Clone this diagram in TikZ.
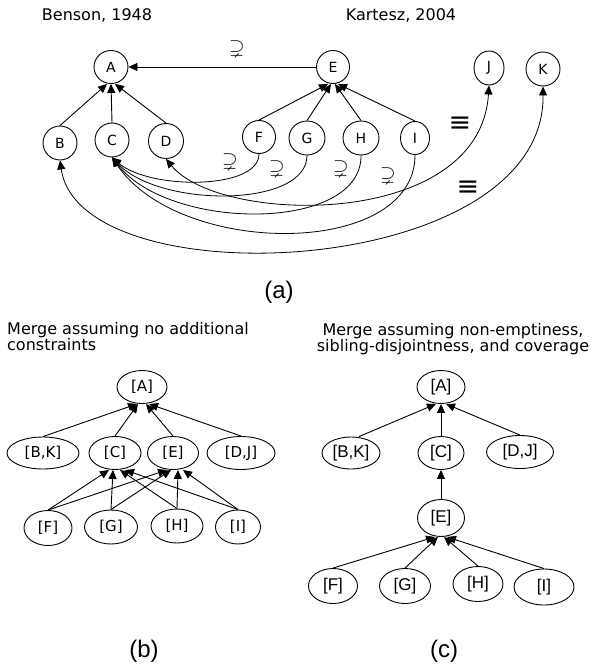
\documentclass[tikz,border=0pt]{standalone}
\usepackage{amsmath,amssymb}
\usepackage{fontspec}
\setmainfont{DejaVu Sans}
\newfontfamily\arialf{Liberation Sans}
\usetikzlibrary{shapes.geometric,arrows.meta}
\tikzset{
  lw/.style={line width=0.9pt},
  anode/.style={draw, ellipse, inner sep=0pt, lw, font=\fontsize{14}{16}\selectfont},
  bnode/.style={draw, ellipse, inner sep=0pt, lw, font=\fontsize{15}{17}\selectfont},
  cnode/.style={draw, ellipse, inner sep=0pt, lw, font=\arialf\fontsize{17}{19}\selectfont},
  arr/.style={-{Triangle[length=9pt,width=8pt]}, lw},
  biarr/.style={{Triangle[length=9pt,width=8pt]}-{Triangle[length=9pt,width=8pt]}, line width=0.8pt},
  curv/.style={-{Triangle[length=9pt,width=8pt]}, line width=0.8pt},
  sym/.style={inner sep=0pt, font=\fontsize{20}{22}\selectfont},
  eqv/.style={inner sep=0pt, font=\fontsize{27}{29}\selectfont},
  head/.style={inner sep=0pt, font=\fontsize{16}{17}\selectfont},
  sublabel/.style={inner sep=0pt, font=\arialf\fontsize{24}{26}\selectfont}
}
\begin{document}
\begin{tikzpicture}[x=1pt,y=-1pt]
\path[use as bounding box] (0,0) rectangle (591,669);

% ---------- (a) ----------
\node[head] (hb) at (97,15) {Benson, 1948};
\node[head] (hk) at (401,15) {Kartesz, 2004};

\node[anode, minimum width=34pt, minimum height=33pt] (A) at (111,67) {A};
\node[anode, minimum width=34pt, minimum height=34pt] (B) at (60,143) {B};
\node[anode, minimum width=34pt, minimum height=34pt] (C) at (112,140) {C};
\node[anode, minimum width=35pt, minimum height=35pt] (D) at (166,141) {D};
\node[anode, minimum width=33pt, minimum height=33pt] (E) at (333,67) {E};
\node[anode, minimum width=33pt, minimum height=33pt] (F) at (259,137) {F};
\node[anode, minimum width=36pt, minimum height=34pt] (G) at (307,138) {G};
\node[anode, minimum width=36pt, minimum height=34pt] (H) at (361,138) {H};
\node[anode, minimum width=29pt, minimum height=33pt] (I) at (415,138) {I};
\node[anode, minimum width=30pt, minimum height=34pt] (J) at (489,68) {J};
\node[anode, minimum width=34pt, minimum height=34pt] (K) at (543,69) {K};

\draw[arr] (B.north) -- ([xshift=-4pt]A.south);
\draw[arr] (C.north) -- (A.south);
\draw[arr] (D.north) -- ([xshift=4pt]A.south);
\draw[arr] (F.north) -- ([xshift=-5pt]E.south);
\draw[arr] (G.north) -- ([xshift=-2pt]E.south);
\draw[arr] (H.north) -- ([xshift=2pt]E.south);
\draw[arr] (I.north) -- ([xshift=5pt]E.south);
\draw[arr] (E) -- (A);

\draw[curv] (F.south) .. controls (259,190) and (150,190) .. (C.south);
\draw[curv] (G.south) .. controls (307,208) and (160,208) .. (C.south);
\draw[curv] (H.south) .. controls (362,232) and (170,232) .. (C.south);
\draw[curv] (I.south) .. controls (415,258) and (180,258) .. (C.south);
\draw[biarr] (D.south) .. controls (220,225) and (480,230) .. (J.south);
\draw[biarr] (B.south) .. controls (80,300) and (545,280) .. (K.south);

\node[sym] (sEA) at (237,49) {$\supsetneq$};
\node[sym] (sF) at (230,161) {$\supsetneq$};
\node[sym] (sG) at (277,168) {$\supsetneq$};
\node[sym] (sH) at (341,168) {$\supsetneq$};
\node[sym] (sI) at (388,175) {$\supsetneq$};
\node[eqv] (eJ) at (460,124) {≡};
\node[eqv] (eK) at (468,188) {≡};

\node[sublabel] (la) at (279,292) {(a)};

% ---------- (b) ----------
\node[head, anchor=base west] (tb1) at (7,334) {Merge assuming no additional};
\node[head, anchor=base west] (tb2) at (7,350) {constraints};

\node[bnode, minimum width=50pt, minimum height=33pt] (bA) at (142,387) {[A]};
\node[bnode, minimum width=72pt, minimum height=32pt] (bBK) at (43,453) {[B,K]};
\node[bnode, minimum width=52pt, minimum height=33pt] (bC) at (115,453) {[C]};
\node[bnode, minimum width=51pt, minimum height=33pt] (bE) at (173,453) {[E]};
\node[bnode, minimum width=68pt, minimum height=33pt] (bDJ) at (241,453) {[D,J]};
\node[bnode, minimum width=48pt, minimum height=35pt] (bF) at (48,528) {[F]};
\node[bnode, minimum width=53pt, minimum height=34pt] (bG) at (111,527) {[G]};
\node[bnode, minimum width=52pt, minimum height=34pt] (bH) at (177,526) {[H]};
\node[bnode, minimum width=45pt, minimum height=34pt] (bI) at (238,527) {[I]};

\draw[arr] (bBK.north) -- ([xshift=-5pt]bA.south);
\draw[arr] (bC.north) -- ([xshift=-4pt]bA.south);
\draw[arr] (bE.north) -- ([xshift=4pt]bA.south);
\draw[arr] (bDJ.north) -- ([xshift=7pt]bA.south);
\foreach \s/\o in {bF/-6pt, bG/-2pt, bH/5pt, bI/10pt}{
  \draw[arr] (\s.north) -- ([xshift=\o]bC.south);
  \draw[arr] (\s.north) -- ([xshift=\o]bE.south);
}
\node[sublabel] (lb) at (144,651) {(b)};

% ---------- (c) ----------
\node[head, anchor=base] (tc1) at (453,335) {Merge assuming non-emptiness,};
\node[head, anchor=base] (tc2) at (453,351) {sibling-disjointness, and coverage};

\node[cnode, minimum width=48pt, minimum height=33pt] (cA) at (441,387) {[A]};
\node[cnode, minimum width=58pt, minimum height=32pt] (cBK) at (351,453) {[B,K]};
\node[cnode, minimum width=46pt, minimum height=33pt] (cC) at (441,453) {[C]};
\node[cnode, minimum width=67pt, minimum height=33pt] (cDJ) at (520,452) {[D,J]};
\node[cnode, minimum width=47pt, minimum height=37pt] (cE) at (441,518) {[E]};
\node[cnode, minimum width=49pt, minimum height=35pt] (cF) at (333,586) {[F]};
\node[cnode, minimum width=51pt, minimum height=35pt] (cG) at (405,586) {[G]};
\node[cnode, minimum width=50pt, minimum height=35pt] (cH) at (478,584) {[H]};
\node[cnode, minimum width=60pt, minimum height=36pt] (cI) at (544,587) {[I]};

\draw[arr] ([xshift=8pt]cBK.north) -- ([xshift=-5pt]cA.south);
\draw[arr] (cC.north) -- (cA.south);
\draw[arr] (cDJ.north) -- ([xshift=5pt]cA.south);
\draw[arr] (cE.north) -- (cC.south);
\draw[arr] (cF.north) -- ([xshift=-6pt]cE.south);
\draw[arr] (cG.north) -- ([xshift=-3pt]cE.south);
\draw[arr] (cH.north) -- ([xshift=3pt]cE.south);
\draw[arr] (cI.north) -- ([xshift=6pt]cE.south);

\node[sublabel] (lc) at (444,651) {(c)};
\end{tikzpicture}
\end{document}
